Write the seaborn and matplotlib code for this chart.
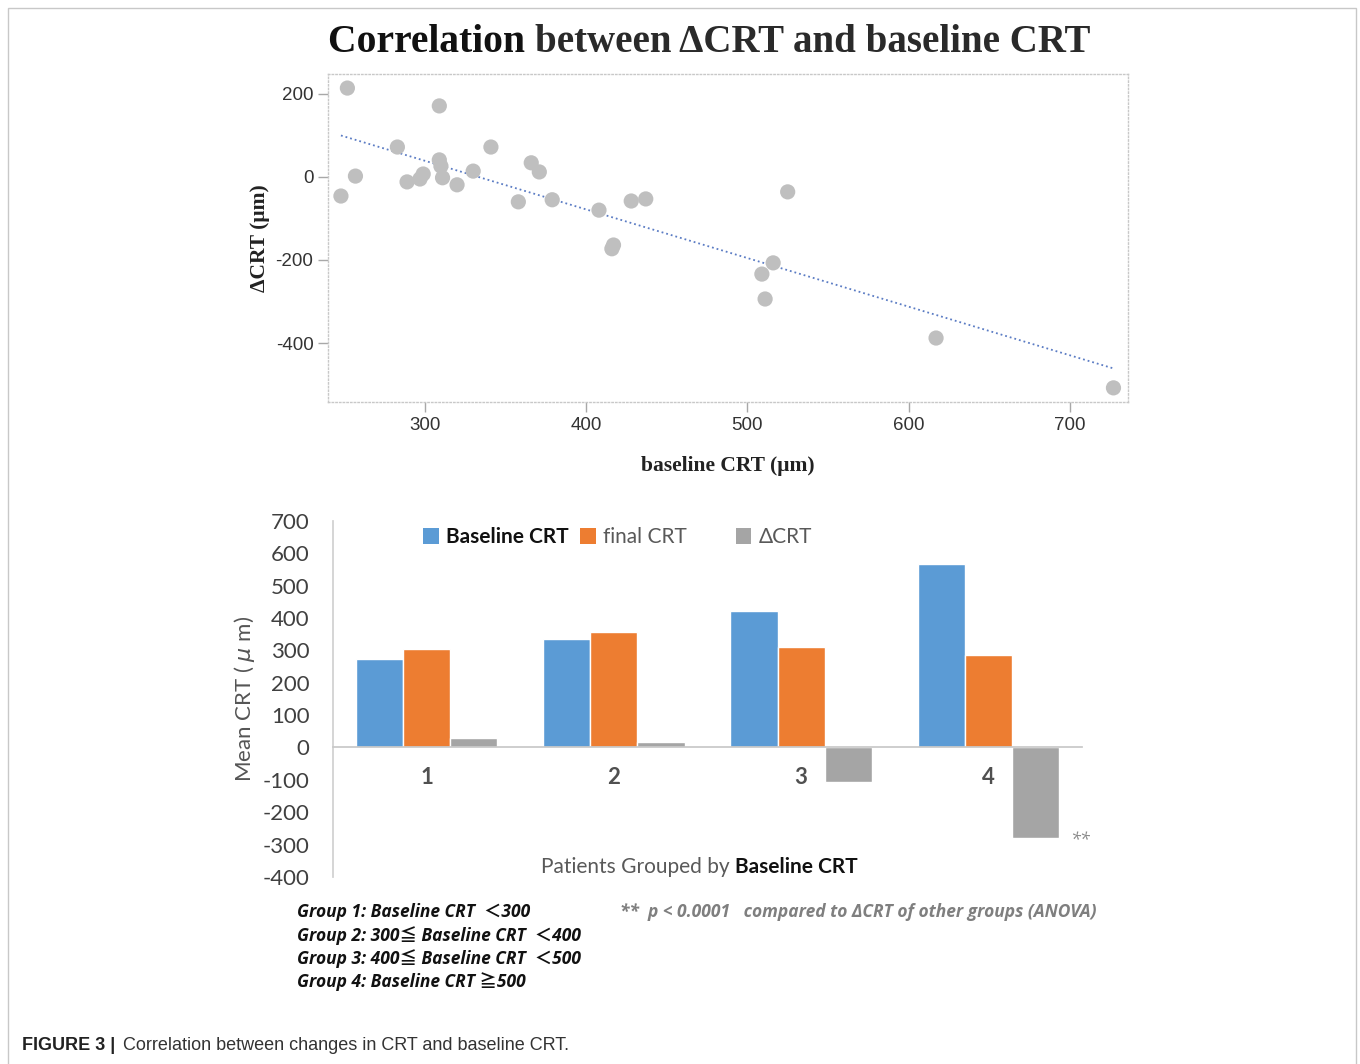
import matplotlib
matplotlib.use("Agg")
import matplotlib.pyplot as plt
import seaborn as sns
import pandas as pd
from matplotlib.patches import Patch, Rectangle

# scatter data
baseline_crt = [248, 252, 257, 283, 289, 297, 299, 309, 309, 310, 311, 320, 330, 341,
                358, 366, 371, 379, 408, 416, 417, 428, 437, 509, 511, 516, 525, 617, 727]
delta_crt = [-46, 214, 2, 72, -12, -5, 7, 171, 41, 26, -2, -19, 14, 72,
             -60, 34, 12, -55, -80, -173, -164, -58, -53, -234, -294, -207, -36, -388, -508]

# group means
groups = ["1", "2", "3", "4"]
baseline_mean = [272, 334, 421, 567]
final_mean = [304, 356, 310, 285]
delta_mean = [28, 18, -108, -279]
measures = ["Baseline CRT", "final CRT", "\u0394CRT"]
bar_colors = ["#5B9BD5", "#ED7D31", "#A5A5A5"]

sns.set_theme(style="white")
plt.rcParams["font.family"] = ["Liberation Sans", "DejaVu Sans"]
plt.rcParams["axes.unicode_minus"] = False

fig = plt.figure(figsize=(13.6, 10.64), dpi=100)
renderer = fig.canvas.get_renderer()


def px(x, y):
    return x / 1360, 1 - y / 1064


def width_px(t):
    return t.get_window_extent(renderer=renderer).width


# outer frame of the figure panel
fig.patches.append(Rectangle((8 / 1360, -0.01), 1348 / 1360, 1 - 8 / 1064 + 0.01,
                             transform=fig.transFigure, fill=False,
                             edgecolor="#c8c8c8", lw=1))

# ---------- upper panel: scatter with trend line ----------
ax1 = fig.add_axes([0.2412, 0.6222, 0.5882, 0.3083])
sc_df = pd.DataFrame({"baseline": baseline_crt, "delta": delta_crt})
sns.scatterplot(data=sc_df, x="baseline", y="delta", color="#bfbfbf", s=120,
                edgecolor="none", ax=ax1, zorder=3)
sns.regplot(data=sc_df, x="baseline", y="delta", scatter=False, ci=None, ax=ax1,
            line_kws=dict(ls=":", lw=1.3, color="#5b7cc4"))
ax1.set_xlim(240, 736)
ax1.set_ylim(-542, 248)
ax1.set_xticks([300, 400, 500, 600, 700])
ax1.set_yticks([-400, -200, 0, 200])
for s in ax1.spines.values():
    s.set_linestyle(":")
    s.set_color("#c8c8c8")
    s.set_linewidth(1)
ax1.tick_params(axis="both", direction="out", length=7, width=1, color="#a8a8a8",
                labelsize=13.5, labelcolor="#333333", bottom=True, left=True)
ax1.set_xlabel("baseline CRT (\u03bcm)", family="Liberation Serif", fontweight="bold",
               fontsize=15.5, color="#222222", labelpad=16)
ax1.set_ylabel("\u0394CRT (\u03bcm)", family="Liberation Serif", fontweight="bold",
               fontsize=15.5, color="#222222", labelpad=4)

t_a = fig.text(*px(328, 43), "Correlation ", family="Liberation Serif",
               fontweight="bold", fontsize=28.5, color="#111111", va="center", ha="left")
fig.text(*px(328 + width_px(t_a), 43), "between \u0394CRT and baseline CRT",
         family="Liberation Serif", fontweight="bold", fontsize=28, color="#2a2a2a",
         va="center", ha="left")

# ---------- lower panel: grouped bars ----------
sans = ["Lato", "DejaVu Sans"]
ax2 = fig.add_axes([0.2449, 0.1758, 0.5507, 0.3346])
bar_df = pd.DataFrame({
    "group": groups * 3,
    "measure": [measures[0]] * 4 + [measures[1]] * 4 + [measures[2]] * 4,
    "value": baseline_mean + final_mean + delta_mean,
})
sns.barplot(data=bar_df, x="group", y="value", hue="measure", palette=bar_colors,
            width=0.755, saturation=1, legend=False, ax=ax2, zorder=2)
ax2.set_xlim(-0.5, 3.5)
ax2.set_ylim(-400, 700)
ax2.set_yticks(range(-400, 701, 100))
for s in ["top", "right"]:
    ax2.spines[s].set_visible(False)
ax2.spines["left"].set_color("#d0d0d0")
ax2.spines["bottom"].set_color("#c8c8c8")
ax2.spines["bottom"].set_position(("data", 0))
ax2.tick_params(axis="both", length=0)
ax2.tick_params(axis="y", labelsize=16, labelcolor="#404040", pad=17)
ax2.tick_params(axis="x", labelsize=16, labelcolor="#505050", pad=14)
for t in ax2.get_yticklabels():
    t.set_family(sans)
for t in ax2.get_xticklabels():
    t.set_family(sans)
    t.set_fontweight("bold")
ax2.set_xlabel("")
ax2.set_ylabel("Mean CRT ( $\\mu$ m)", family=sans, fontsize=16, color="#555555")
ax2.yaxis.set_label_coords(-0.102, 0.5)

handles = [Patch(facecolor=c, edgecolor="none") for c in bar_colors]
labels = ["Baseline CRT", "final CRT       ", "\u0394CRT"]
leg = ax2.legend(handles, labels, ncol=3, frameon=False, loc="upper left",
                 bbox_to_anchor=(0.095, 1.035), handlelength=0.75, handleheight=0.75,
                 handletextpad=0.35, columnspacing=0.55, prop={"family": sans, "size": 15})
leg.get_texts()[0].set_fontweight("bold")
leg.get_texts()[0].set_color("#111111")
leg.get_texts()[1].set_color("#595959")
leg.get_texts()[2].set_color("#595959")

ax2.text(3.49, -285, "**", family="Open Sans", fontsize=13, style="italic",
         color="#8a8a8a", ha="center", va="center")

t_p = fig.text(*px(541, 867), "Patients Grouped by ", family=sans, fontsize=15,
               color="#595959", ha="left", va="center")
fig.text(*px(541 + width_px(t_p), 867), "Baseline CRT", family=sans, fontsize=15,
         fontweight="bold", color="#111111", ha="left", va="center")

notes = ["Group 1: Baseline CRT  \uff1c300",
         "Group 2: 300\u2266 Baseline CRT  \uff1c400",
         "Group 3: 400\u2266 Baseline CRT  \uff1c500",
         "Group 4: Baseline CRT \u2267500"]
note_family = ["Open Sans", "Noto Sans CJK SC", "DejaVu Sans"]
for i, n in enumerate(notes):
    fig.text(*px(297, 912 + 23.3 * i), n, family=note_family,
             fontsize=12.5, fontweight="bold", style="italic", color="#111111",
             ha="left", va="center")
fig.text(*px(620, 912),
         "**  p < 0.0001   compared to \u0394CRT of other groups (ANOVA)",
         family=note_family, fontsize=12.5, fontweight="bold", style="italic",
         color="#7f7f7f", ha="left", va="center")

fig.text(*px(22, 1045), "FIGURE 3 |", family="Liberation Sans",
         fontweight="bold", fontsize=13, color="#222222", ha="left", va="center")
fig.text(*px(123, 1045), "Correlation between changes in CRT and baseline CRT.",
         family="Liberation Sans", fontsize=13, color="#333333", ha="left", va="center")

fig.savefig("out.png", dpi=100)
